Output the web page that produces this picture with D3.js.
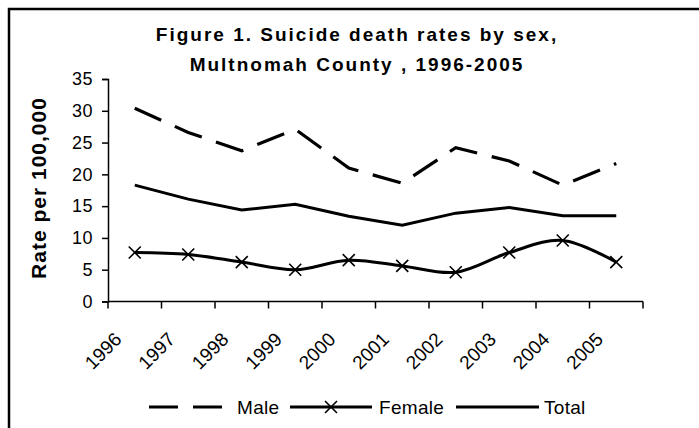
<!DOCTYPE html>
<html>
<head>
<meta charset="utf-8">
<script src="https://cdn.jsdelivr.net/npm/d3@7"></script>
<style>
  body { margin: 0; background: #fff; }
  svg text { font-family: 'Liberation Sans', Arial, sans-serif; fill: #000; }
</style>
</head>
<body>
<div id="chart"></div>
<script>

// chart data
var years = ['1996', '1997', '1998', '1999', '2000', '2001', '2002', '2003', '2004', '2005'];
var male = [30.4, 26.6, 23.7, 27.1, 21.0, 18.6, 24.2, 22.1, 18.3, 21.7];
var female = [7.7, 7.4, 6.2, 5.0, 6.5, 5.6, 4.6, 7.7, 9.6, 6.2];
var total = [18.3, 16.1, 14.4, 15.3, 13.4, 12.0, 13.9, 14.8, 13.5, 13.5];
var yTicks = [0, 5, 10, 15, 20, 25, 30, 35];
var titleLines = ['Figure 1. Suicide death rates by sex,', 'Multnomah County , 1996-2005'];

var createChart = () => {

  var width = 699,
      height = 428;

  var svg = d3.select('#chart')
    .append('svg')
    .attr('width', width)
    .attr('height', height);

  // outer frame, runs off the right and bottom edge
  svg.append('rect')
    .attr('x', 9)
    .attr('y', 9)
    .attr('width', 740)
    .attr('height', 460)
    .style('fill', 'none')
    .style('stroke', '#000')
    .style('stroke-width', 2.5);

  var x = d3.scaleBand().domain(years).range([108, 643]),
      y = d3.scaleLinear().domain([0, 35]).range([301.5, 79]);

  var cx = (d, i) => x(years[i]) + x.bandwidth() / 2;

  // title
  svg.append('text')
    .attr('text-anchor', 'middle')
    .style('font-size', '19px')
    .style('font-weight', 'bold')
    .style('letter-spacing', '2px')
    .selectAll('tspan')
    .data(titleLines)
    .enter()
    .append('tspan')
      .attr('x', 357)
      .attr('y', (d, i) => 41 + i * 30)
      .text(d => d);

  // y axis
  var yAxis = svg.append('g')
    .attr('transform', 'translate(108,0)')
    .call(d3.axisLeft(y).tickValues(yTicks).tickSize(6).tickPadding(9));
  yAxis.select('.domain').attr('stroke', '#000').attr('stroke-width', 1.5);
  yAxis.selectAll('.tick line').attr('stroke', '#000').attr('stroke-width', 1.5);
  yAxis.selectAll('.tick text')
    .style('font-size', '18px')
    .style('letter-spacing', '0.5px')
    .style('font-family', "'Liberation Sans', Arial, sans-serif");

  // x axis, ticks on band edges
  var xAxis = svg.append('g')
    .attr('transform', 'translate(0,301.5)');
  xAxis.append('line')
    .attr('x1', x.range()[0])
    .attr('x2', x.range()[1])
    .attr('stroke', '#000')
    .attr('stroke-width', 1.5);
  xAxis.selectAll('line.tk')
    .data(years.concat(['end']))
    .enter()
    .append('line')
      .attr('class', 'tk')
      .attr('x1', (d, i) => x.range()[0] + i * x.bandwidth())
      .attr('x2', (d, i) => x.range()[0] + i * x.bandwidth())
      .attr('y1', 0)
      .attr('y2', 7)
      .attr('stroke', '#000')
      .attr('stroke-width', 1.5);
  xAxis.selectAll('text')
    .data(years)
    .enter()
    .append('text')
      .attr('text-anchor', 'end')
      .attr('transform', (d, i) => 'translate(' + (cx(d, i) - 12) + ',39) rotate(-45)')
      .style('font-size', '19px')
      .text(d => d);

  // y axis title
  svg.append('text')
    .attr('text-anchor', 'middle')
    .attr('transform', 'translate(46,188) rotate(-90)')
    .style('font-size', '21px')
    .style('font-weight', 'bold')
    .style('letter-spacing', '1px')
    .text('Rate per 100,000');

  // lines
  var straight = d3.line()
    .x(cx)
    .y(d => y(d));

  var smooth = d3.line()
    .curve(d3.curveCardinal.tension(0))
    .x(cx)
    .y(d => y(d));

  svg.append('path')
    .datum(total)
    .attr('d', straight)
    .style('fill', 'none')
    .style('stroke', '#000')
    .style('stroke-width', 3);

  svg.append('path')
    .datum(male)
    .attr('d', straight)
    .style('fill', 'none')
    .style('stroke', '#000')
    .style('stroke-width', 3.2)
    .style('stroke-dasharray', '29,15');

  svg.append('path')
    .datum(female)
    .attr('d', smooth)
    .style('fill', 'none')
    .style('stroke', '#000')
    .style('stroke-width', 3);

  // X markers on female
  var cross = (px, py, s) => 'M' + (px - s) + ',' + (py - s) + 'L' + (px + s) + ',' + (py + s) +
                             'M' + (px - s) + ',' + (py + s) + 'L' + (px + s) + ',' + (py - s);
  svg.selectAll('path.mk')
    .data(female)
    .enter()
    .append('path')
      .attr('class', 'mk')
      .attr('d', (d, i) => cross(cx(d, i), y(d), 6))
      .style('stroke', '#000')
      .style('stroke-width', 1.6);

  // legend
  var legend = [
    {name: 'Male', x1: 149, x2: 222, tx: 237, dash: '29,15', marker: false},
    {name: 'Female', x1: 290, x2: 372, tx: 379, dash: null, marker: true},
    {name: 'Total', x1: 456, x2: 539, tx: 544, dash: null, marker: false}
  ];
  var ly = 407;
  var lg = svg.append('g');
  legend.forEach(function(l) {
    lg.append('line')
      .attr('x1', l.x1)
      .attr('x2', l.x2)
      .attr('y1', ly)
      .attr('y2', ly)
      .style('stroke', '#000')
      .style('stroke-width', 3)
      .style('stroke-dasharray', l.dash);
    if (l.marker) {
      lg.append('path')
        .attr('d', cross((l.x1 + l.x2) / 2, ly, 6))
        .style('stroke', '#000')
        .style('stroke-width', 1.6);
    }
    lg.append('text')
      .attr('x', l.tx)
      .attr('y', ly + 7)
      .style('font-size', '19px')
      .style('letter-spacing', '0.3px')
      .text(l.name);
  });
};

createChart();

</script>
</body>
</html>
